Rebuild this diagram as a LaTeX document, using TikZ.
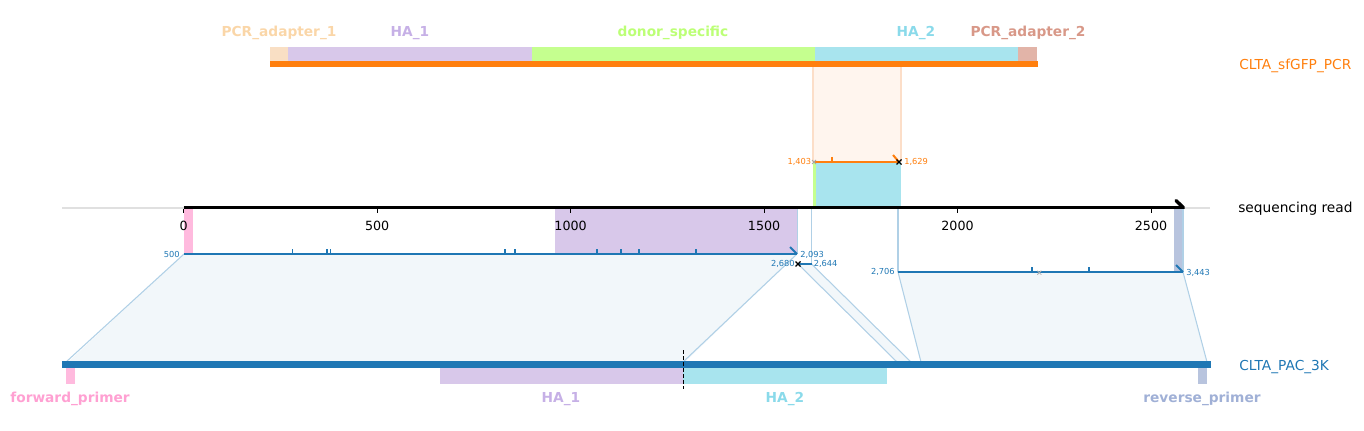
\documentclass[tikz,border=0pt]{standalone}
\usepackage{fontspec}
\setmainfont{DejaVu Sans}
\definecolor{mplblue}{RGB}{31,119,180}
\definecolor{mplorange}{RGB}{255,127,14}
\definecolor{pcrAf}{RGB}{249,223,196}
\definecolor{pcrAl}{RGB}{250,214,168}
\definecolor{pcrBf}{RGB}{226,180,168}
\definecolor{pcrBl}{RGB}{216,152,136}
\definecolor{haAf}{RGB}{216,200,234}
\definecolor{haAl}{RGB}{198,176,230}
\definecolor{haBf}{RGB}{168,228,238}
\definecolor{haBl}{RGB}{138,218,234}
\definecolor{donf}{RGB}{197,255,143}
\definecolor{donl}{RGB}{188,255,118}
\definecolor{fwdf}{RGB}{255,186,222}
\definecolor{fwdl}{RGB}{255,160,210}
\definecolor{revf}{RGB}{184,196,222}
\definecolor{revl}{RGB}{160,176,214}
\definecolor{lbfill}{RGB}{242,247,250}
\definecolor{lbedge}{RGB}{176,208,230}
\definecolor{orfill}{RGB}{255,245,238}
\definecolor{oredge}{RGB}{252,222,200}
\begin{document}
\begin{tikzpicture}[x=0.75pt,y=-0.75pt,
  big/.style={inner sep=0pt,font=\fontsize{10.3}{12}\selectfont},
  featlbl/.style={inner sep=0pt,font=\bfseries\fontsize{10.3}{12}\selectfont,anchor=base},
  ticklbl/.style={inner sep=0pt,font=\fontsize{9.5}{11}\selectfont,anchor=base},
  small/.style={inner sep=0pt,font=\fontsize{6.2}{7}\selectfont},
  aln/.style={line width=1.5pt},
  edge/.style={draw=lbedge,line width=0.8pt},
  tk/.style={line width=1.2pt}
]
\useasboundingbox (0,0) rectangle (1364,431);

% ---------- top construct CLTA_sfGFP_PCR ----------
\fill[orfill] (813,67) rectangle (901,162);
\draw[oredge,line width=0.8pt] (813,67) -- (813,162) (901,67) -- (901,162);

\fill[pcrAf] (270,47) rectangle (288,61.5);
\fill[haAf] (288,47) rectangle (531.5,61.5);
\fill[donf] (531.5,47) rectangle (815,61.5);
\fill[haBf] (815,47) rectangle (1018,61.5);
\fill[pcrBf] (1018,47) rectangle (1037,61.5);
\fill[mplorange] (270,61.5) rectangle (1038,67.5);

\node[featlbl,text=pcrAl] (lpa1) at (279,37) {PCR\_adapter\_1};
\node[featlbl,text=haAl] (lha1t) at (410,37) {HA\_1};
\node[featlbl,text=donl] (ldon) at (673,37) {donor\_specific};
\node[featlbl,text=haBl] (lha2t) at (916,37) {HA\_2};
\node[featlbl,text=pcrBl] (lpa2) at (1028,37) {PCR\_adapter\_2};
\node[big,anchor=base west,text=mplorange] (lsf) at (1239,70) {CLTA\_sfGFP\_PCR};

% orange alignment on read
\fill[donf] (813,162.5) rectangle (815.5,207);
\fill[haBf] (815.5,162.5) rectangle (901,207);
\coordinate (oa) at (814,162);
\coordinate (ob) at (899,162);
\draw[mplorange,aln] (oa) -- (ob);
\draw[mplorange,tk] (832,157) -- (832,162);
\draw[mplorange,aln] (893,155) -- (ob);
\draw[gray!70,line width=0.6pt] (812,160) -- (816,164) (812,164) -- (816,160);
\draw[black,line width=1pt] (896.5,159.5) -- (901.5,164.5) (896.5,164.5) -- (901.5,159.5);
\node[small,anchor=east,text=mplorange] (n1403) at (811.5,162) {1,403};
\node[small,anchor=west,text=mplorange] (n1629) at (904,162) {1,629};

% ---------- light blue mapping polygons ----------
\fill[lbfill] (184,254) -- (797,254) -- (683,364) -- (66,364) -- cycle;
\draw[edge] (184,254) -- (66,362) (797,254) -- (683,362);
\fill[lbfill] (798,264) -- (811.5,264) -- (911,362) -- (897,362) -- cycle;
\draw[edge] (798,264) -- (897,362) (811.5,264) -- (911,362);
\fill[lbfill] (898,272) -- (1183,272) -- (1207,362) -- (921,362) -- cycle;
\draw[edge] (898,272) -- (921,362) (1183,272) -- (1207,362);

% grey baseline
\draw[black!12,line width=0.8pt] (62,208) -- (1210,208);

% features on sequencing read
\fill[fwdf] (183.7,209.5) rectangle (193,254);
\fill[haAf] (555,209.5) rectangle (797,254);
\fill[revf] (1174.3,209.5) rectangle (1183.3,272);

% vertical mapping edges
\draw[edge] (797.5,208) -- (797.5,254) (811.5,208) -- (811.5,264) (898,208) -- (898,272) (1183,208) -- (1183,272);

% ---------- sequencing read axis ----------
\coordinate (r0) at (183.7,207.7);
\coordinate (r1) at (1183.3,207.7);
\draw[black,line width=2.6pt] (r0) -- (r1);
\draw[black,line width=2.6pt,line cap=round] (1176,200.5) -- (r1);
\foreach \x/\t in {183.7/0,377.2/500,570.6/1000,764.1/1500,957.5/2000,1151/2500}{
  \draw[black,line width=0.7pt] (\x,209.5) -- (\x,213);
  \node[ticklbl] at (\x,230) {\t};
}
\node[big,anchor=base west] (lseq) at (1238,213) {sequencing read};

% ---------- blue alignments on read ----------
\draw[mplblue,aln] (184,254) -- (797,254);
\foreach \x in {292.3,326.7,330.3,505,515,596.7,621,639,695.7}{
  \draw[mplblue,tk] (\x,249) -- (\x,254);
}
\draw[mplblue,aln] (790,247) -- (797,254);
\node[small,anchor=east,text=mplblue] (n500) at (180,254) {500};
\node[small,anchor=west,text=mplblue] (n2093) at (800,255) {2,093};

\draw[mplblue,aln] (798,264) -- (811.5,264);
\draw[black,line width=1pt] (795.5,261.5) -- (800.5,266.5) (795.5,266.5) -- (800.5,261.5);
\node[small,anchor=east,text=mplblue] (n2680) at (795,264) {2,680};
\node[small,anchor=west,text=mplblue] (n2644) at (813.5,264) {2,644};

\draw[mplblue,aln] (898,272) -- (1183,272);
\draw[mplblue,tk] (1031.7,267) -- (1031.7,272) (1089,267) -- (1089,272);
\draw[mplblue,aln] (1176,265) -- (1183,272);
\draw[gray!60,line width=0.6pt] (1037.3,270.7) -- (1041.3,274.7) (1037.3,274.7) -- (1041.3,270.7);
\node[small,anchor=east,text=mplblue] (n2706) at (895,272) {2,706};
\node[small,anchor=west,text=mplblue] (n3443) at (1186,272.5) {3,443};

% ---------- bottom construct CLTA_PAC_3K ----------
\fill[mplblue] (62,361) rectangle (1211,368);
\fill[fwdf] (66,368) rectangle (75,384);
\fill[haAf] (440,368) rectangle (683,384);
\fill[haBf] (683,368) rectangle (887,384);
\fill[revf] (1198,368) rectangle (1207,384);
\draw[black,line width=0.9pt,dash pattern=on 3pt off 1.5pt] (683.3,350) -- (683.3,388.5);

\node[featlbl,text=fwdl] (lfwd) at (70,402) {forward\_primer};
\node[featlbl,text=haAl] (lha1b) at (561,402) {HA\_1};
\node[featlbl,text=haBl] (lha2b) at (785,402) {HA\_2};
\node[featlbl,text=revl] (lrev) at (1202,402) {reverse\_primer};
\node[big,anchor=base west,text=mplblue] (lpac) at (1239,370) {CLTA\_PAC\_3K};
\end{tikzpicture}
\end{document}
